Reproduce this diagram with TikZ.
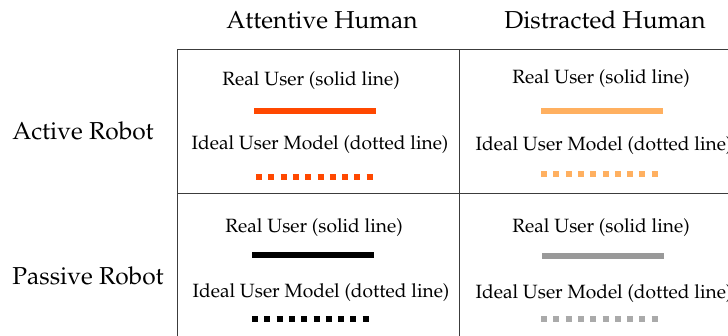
\documentclass[tikz,border=0pt]{standalone}
\usepackage[T1]{fontenc}
\usepackage{mathpazo}
\definecolor{redorange}{RGB}{255,72,0}
\definecolor{lightorange}{RGB}{255,176,96}
\definecolor{midgray}{RGB}{153,153,153}
\definecolor{lightgray}{RGB}{170,170,170}
\tikzset{
  bigtext/.style={font=\fontsize{24.5}{29}\selectfont, inner sep=0pt},
  celltext/.style={font=\fontsize{19.2}{23}\selectfont, inner sep=0pt},
  solidbar/.style={line width=6pt},
  dotbar/.style={line width=6pt, dash pattern=on 6pt off 6.3pt},
  gridline/.style={line width=1pt, draw={rgb,255:red,60;green,60;blue,60}},
}
\begin{document}
\begin{tikzpicture}[x=1pt,y=-1pt]
\useasboundingbox (0,0) rectangle (728,335);
\clip (0,0) rectangle (728,335);
% grid
\draw[gridline] (177,49) -- (740,49);
\draw[gridline] (177,49) -- (177,345);
\draw[gridline] (459,49) -- (459,345);
\draw[gridline] (177,193) -- (740,193);
% headers
\node[bigtext] (hA) at (322,20) {Attentive Human};
\node[bigtext] (hD) at (605,20) {Distracted Human};
\node[bigtext] (rA) at (83,131) {Active Robot};
\node[bigtext] (rP) at (88,276) {Passive Robot};
% top-left
\node[celltext] (tl1) at (311,81) {Real User (solid line)};
\coordinate (tlsA) at (254,111); \coordinate (tlsB) at (376,111);
\draw[solidbar, redorange] (tlsA) -- (tlsB);
\node[celltext] (tl2) at (320,145) {Ideal User Model (dotted line)};
\coordinate (tldA) at (256,177); \coordinate (tldB) at (374,177);
\draw[dotbar, redorange] (tldA) -- (tldB);
% top-right
\node[celltext] (tr1) at (601,79) {Real User (solid line)};
\coordinate (trsA) at (541,111); \coordinate (trsB) at (663,111);
\draw[solidbar, lightorange] (trsA) -- (trsB);
\node[celltext] (tr2) at (604,146) {Ideal User Model (dotted line)};
\coordinate (trdA) at (541,174); \coordinate (trdB) at (659,174);
\draw[dotbar, lightorange] (trdA) -- (trdB);
% bottom-left
\node[celltext] (bl1) at (314,228) {Real User (solid line)};
\coordinate (blsA) at (252,255); \coordinate (blsB) at (374,255);
\draw[solidbar, black] (blsA) -- (blsB);
\node[celltext] (bl2) at (321,293) {Ideal User Model (dotted line)};
\coordinate (bldA) at (252,319); \coordinate (bldB) at (370,319);
\draw[dotbar, black] (bldA) -- (bldB);
% bottom-right
\node[celltext] (br1) at (601,228) {Real User (solid line)};
\coordinate (brsA) at (542,256); \coordinate (brsB) at (664,256);
\draw[solidbar, midgray] (brsA) -- (brsB);
\node[celltext] (br2) at (604,294) {Ideal User Model (dotted line)};
\coordinate (brdA) at (541,319); \coordinate (brdB) at (659,319);
\draw[dotbar, lightgray] (brdA) -- (brdB);
\end{tikzpicture}
\end{document}
